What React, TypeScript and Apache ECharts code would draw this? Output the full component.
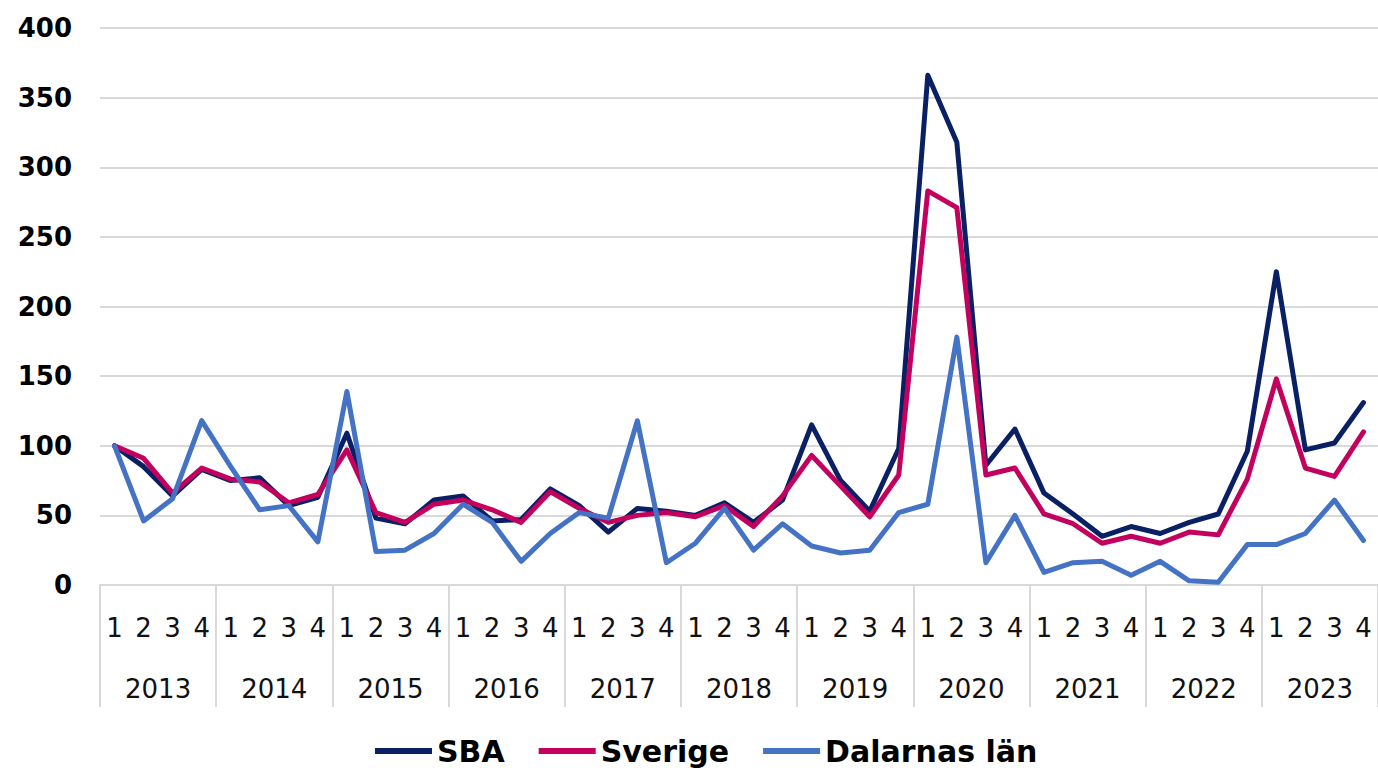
import React, { useEffect, useRef } from "react";
import * as echarts from "echarts";

const years = ["2013", "2014", "2015", "2016", "2017", "2018", "2019", "2020", "2021", "2022", "2023"];
const quarters = ["1", "2", "3", "4"];
const categories = years.flatMap((y) => quarters.map((q) => `${y}-${q}`));

const sba = [100, 85, 64, 83, 75, 77, 57, 63, 109, 48, 44, 61, 64, 46, 47, 69, 57, 38, 55, 53, 50, 59, 45, 61, 115, 75, 53, 98, 366, 318, 86, 112, 66, 51, 35, 42, 37, 45, 51, 96, 225, 97, 102, 131];
const sverige = [100, 91, 66, 84, 76, 74, 59, 65, 97, 52, 45, 58, 61, 54, 45, 67, 55, 45, 50, 52, 49, 57, 42, 64, 93, 71, 49, 79, 283, 271, 79, 84, 51, 44, 30, 35, 30, 38, 36, 76, 148, 84, 78, 110];
const dalarna = [100, 46, 62, 118, 85, 54, 57, 31, 139, 24, 25, 37, 58, 45, 17, 37, 52, 48, 118, 16, 30, 55, 25, 44, 28, 23, 25, 52, 58, 178, 16, 50, 9, 16, 17, 7, 17, 3, 2, 29, 29, 37, 61, 32];

const yTicks = { min: 0, max: 400, interval: 50 };

const FONT = "'DejaVu Sans', sans-serif";
const GRID_COLOR = "#d9d9d9";

export default function App() {
  const ref = useRef<HTMLDivElement>(null);
  useEffect(() => {
    if (!ref.current) return;
    const chart = echarts.init(ref.current, null, { renderer: "svg" });
    const mk = (name: string, data: number[], color: string) => ({
      name,
      type: "line",
      data,
      symbol: "none",
      showSymbol: false,
      smooth: false,
      lineStyle: { color, width: 5, join: "round", cap: "round" },
      itemStyle: { color },
      xAxisIndex: 0,
    });
    chart.setOption({
      animation: false,
      backgroundColor: "#ffffff",
      grid: { left: 100, top: 28, width: 1285, height: 557, containLabel: false },
      legend: {
        left: 370,
        top: 731,
        icon: "rect",
        itemWidth: 57,
        itemHeight: 6,
        itemGap: 34,
        textStyle: { fontFamily: FONT, fontWeight: "bold", fontSize: 30, color: "#000" },
        data: ["SBA", "Sverige", "Dalarnas län"],
      },
      xAxis: [
        {
          type: "category",
          data: categories,
          boundaryGap: true,
          position: "bottom",
          axisLine: { show: true, lineStyle: { color: GRID_COLOR, width: 2 } },
          axisTick: { show: false },
          axisLabel: {
            interval: 0,
            margin: 30,
            fontFamily: FONT,
            fontSize: 26,
            color: "#111",
            formatter: (v: string) => v.split("-")[1],
          },
          splitLine: { show: false },
        },
        {
          type: "category",
          data: years,
          boundaryGap: true,
          position: "bottom",
          axisLine: { show: false },
          axisTick: {
            show: true,
            interval: 0,
            alignWithLabel: false,
            length: 122,
            lineStyle: { color: GRID_COLOR, width: 2 },
          },
          axisLabel: {
            interval: 0,
            margin: 91,
            fontFamily: FONT,
            fontSize: 26,
            color: "#111",
          },
          splitLine: { show: false },
        },
      ],
      yAxis: {
        type: "value",
        min: yTicks.min,
        max: yTicks.max,
        interval: yTicks.interval,
        axisLine: { show: false },
        axisTick: { show: false },
        axisLabel: {
          margin: 28,
          fontFamily: FONT,
          fontWeight: "bold",
          fontSize: 26,
          color: "#000",
        },
        splitLine: { show: true, lineStyle: { color: GRID_COLOR, width: 2 } },
      },
      series: [
        mk("SBA", sba, "#0A2064"),
        mk("Sverige", sverige, "#C4005E"),
        mk("Dalarnas län", dalarna, "#4472C4"),
      ],
    });
    return () => chart.dispose();
  }, []);
  return (
    <div
      ref={ref}
      style={{ position: "fixed", left: 0, top: 0, width: 1378, height: 768, background: "#fff" }}
    />
  );
}
